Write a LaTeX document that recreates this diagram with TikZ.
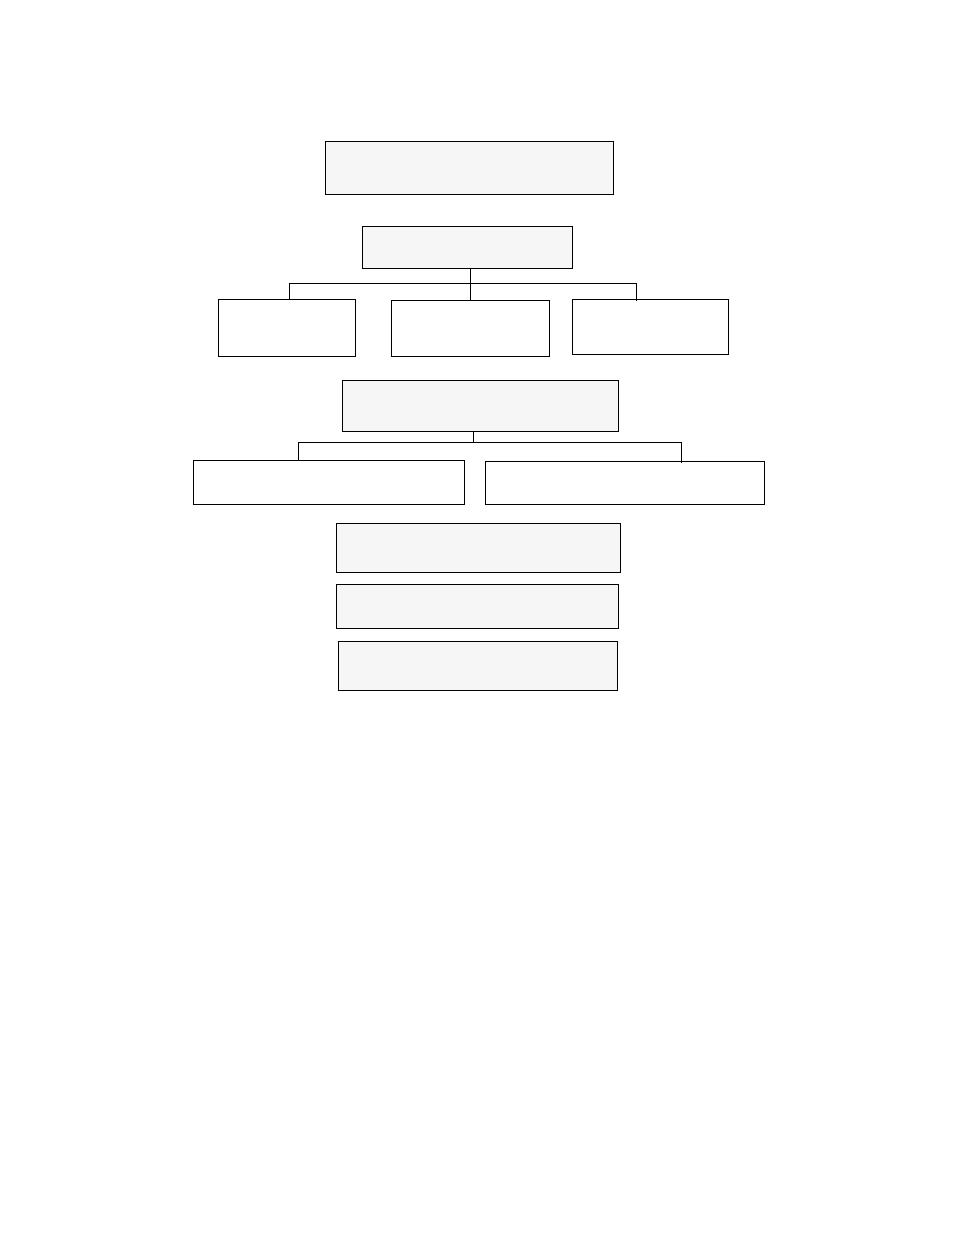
\documentclass[tikz,border=0pt]{standalone}
\usepackage{xcolor}
\usepackage{tikz}
\usetikzlibrary{positioning}

\definecolor{boxgray}{HTML}{F6F6F6}

\begin{document}
\begin{tikzpicture}[
  x=1pt, y=-1pt,
  box/.style={draw, line width=0.9pt, fill=white, inner sep=0pt},
  gbox/.style={box, fill=boxgray},
  link/.style={line width=0.8pt},
]
  \useasboundingbox (0,0) rectangle (954,1235);

  \node[gbox, minimum width=288pt, minimum height=53pt] (head) at (469,167.5) {};
  \node[gbox, minimum width=210pt, minimum height=42pt] (mid) at (467,247) {};

  \node[box, minimum width=137pt, minimum height=57pt] (left) at (286.5,327.5) {};
  \node[box, minimum width=158pt, minimum height=56pt] (centre) at (470,328) {};
  \node[box, minimum width=156pt, minimum height=55pt] (right) at (650,326.5) {};

  \node[gbox, minimum width=276pt, minimum height=51pt] (split) at (480,405.5) {};
  \node[box, minimum width=271pt, minimum height=44pt] (west) at (328.5,482) {};
  \node[box, minimum width=279pt, minimum height=43pt] (east) at (624.5,482.5) {};

  \node[gbox, minimum width=284pt, minimum height=49pt] (foot1) at (478,547.5) {};
  \node[gbox, minimum width=282pt, minimum height=44pt] (foot2) at (477,606) {};
  \node[gbox, minimum width=279pt, minimum height=49pt] (foot3) at (477.5,665.5) {};

  % branches
  \draw[link] (mid.south -| centre.north) -- ++(0,15) coordinate (bar1);
  \draw[link] ([xshift=2.5pt,yshift=-1pt]left.north) |- (bar1) -| ([xshift=-14pt,yshift=-2pt]right.north);
  \draw[link] (bar1) -- (centre.north);

  \draw[link] (split.south -| 473,0) -- ++(0,11) coordinate (bar2);
  \draw[link] ([xshift=-30.5pt,yshift=-1pt]west.north) |- (bar2) -| ([xshift=56.5pt,yshift=-2pt]east.north);
\end{tikzpicture}
\end{document}
